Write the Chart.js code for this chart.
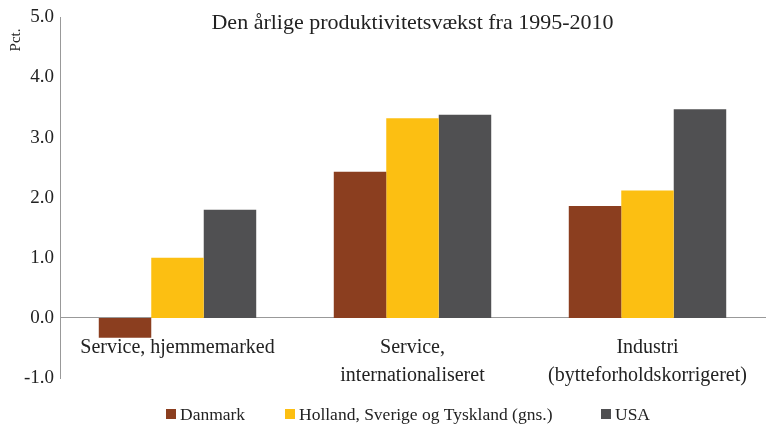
<!DOCTYPE html>
<html>
<head>
<meta charset="utf-8">
<script src="https://cdn.jsdelivr.net/npm/chart.js@4"></script>
<style>
  html, body { margin: 0; padding: 0; background: #fff; }
  #wrap { width: 771px; height: 428px; position: relative; }
</style>
</head>
<body>
<div id="wrap"><canvas id="chart"></canvas></div>
<script>
const categories = [
    "Service, hjemmemarked",
    ["Service,", "internationaliseret"],
    ["Industri", "(bytteforholdskorrigeret)"]
];
const danmark = [-0.33, 2.43, 1.86];
const holland = [1.0, 3.32, 2.12];
const usa = [1.80, 3.38, 3.47];
const seriesNames = ["Danmark", "Holland, Sverige og Tyskland (gns.)", "USA"];
const colors = ["#8b3e1f", "#fcbf12", "#505052"];

const chartTitle = "Den årlige produktivitetsvækst fra 1995-2010";
const yLabel = "Pct.";
const serif = "'Liberation Serif', 'DejaVu Serif', serif";

// title, unit label and legend are drawn on top of the plot like in the original
const overlay = {
    id: "overlay",
    afterDraw(chart) {
        const ctx = chart.ctx;
        const area = chart.chartArea;
        ctx.save();
        ctx.fillStyle = "#222";
        ctx.font = "22px " + serif;
        ctx.textAlign = "center";
        ctx.textBaseline = "middle";
        ctx.fillText(chartTitle, (area.left + area.right) / 2, 23);

        ctx.save();
        ctx.translate(16, 40);
        ctx.rotate(-Math.PI / 2);
        ctx.font = "15px " + serif;
        ctx.fillText(yLabel, 0, 0);
        ctx.restore();

        const legendX = [166, 285, 601];
        ctx.font = "17.5px " + serif;
        ctx.textAlign = "left";
        chart.data.datasets.forEach((ds, i) => {
            ctx.fillStyle = ds.backgroundColor;
            ctx.fillRect(legendX[i], 409, 10, 10);
            ctx.fillStyle = "#222";
            ctx.fillText(ds.label, legendX[i] + 14, 415);
        });
        ctx.restore();
    }
};

const datasets = [danmark, holland, usa].map((vals, i) => ({
    label: seriesNames[i],
    data: vals,
    backgroundColor: colors[i],
    borderWidth: 0,
    barPercentage: 1,
    categoryPercentage: 0.67
}));

new Chart(document.getElementById("chart"), {
    type: "bar",
    data: { labels: categories, datasets: datasets },
    options: {
        responsive: true,
        maintainAspectRatio: false,
        animation: false,
        layout: { padding: { top: 15, bottom: 50, left: 0, right: 6 } },
        plugins: {
            legend: { display: false },
            title: { display: false },
            tooltip: { enabled: false }
        },
        scales: {
            x: {
                position: { y: 0 },
                grid: { display: false, drawTicks: false },
                border: { color: "#999", width: 1 },
                ticks: {
                    color: "#222",
                    padding: 16,
                    maxRotation: 0,
                    autoSkip: false,
                    font: { family: serif, size: 20, lineHeight: 1.4 }
                }
            },
            y: {
                min: -1,
                max: 5,
                afterFit(scale) { scale.width = 60; },
                grid: { display: false, drawTicks: false },
                border: { color: "#999", width: 1 },
                ticks: {
                    stepSize: 1,
                    color: "#222",
                    padding: 6,
                    font: { family: serif, size: 19 },
                    callback: v => v.toFixed(1)
                }
            }
        }
    },
    plugins: [overlay]
});
</script>
</body>
</html>
